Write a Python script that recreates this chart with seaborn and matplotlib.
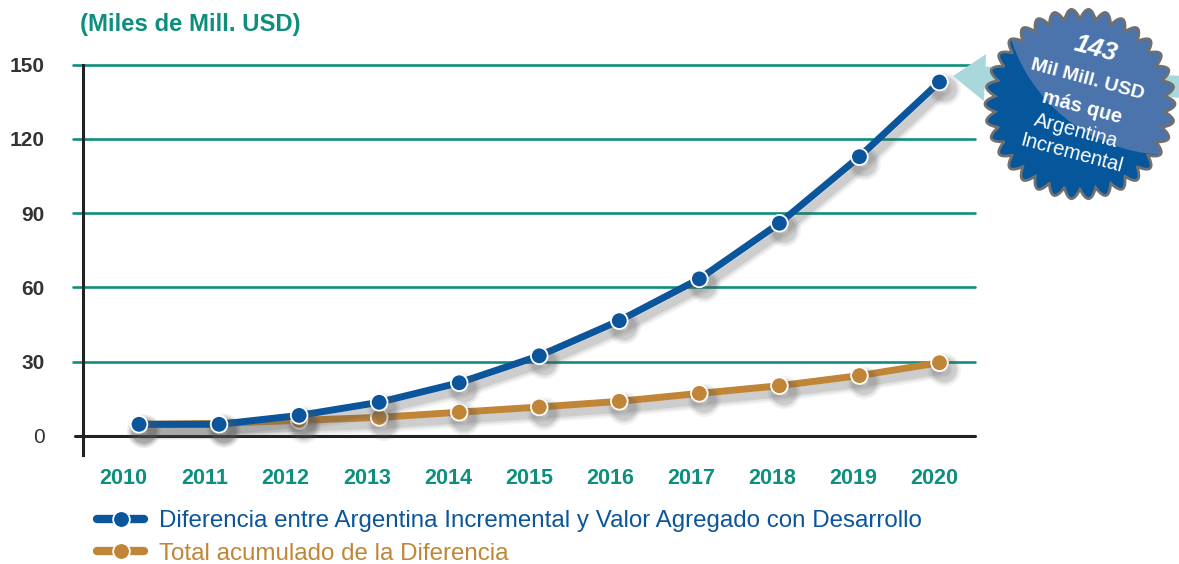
import numpy as np
import pandas as pd
import matplotlib
matplotlib.use("Agg")
import matplotlib.pyplot as plt
import matplotlib.patheffects as pe
from matplotlib.lines import Line2D
from matplotlib.patches import Polygon, Circle, FancyArrow
import seaborn as sns

# ---- data (miles de millones de USD) ----
years = [2010, 2011, 2012, 2013, 2014, 2015, 2016, 2017, 2018, 2019, 2020]
diferencia = [4.6, 4.6, 8.2, 13.5, 21.4, 32.3, 46.5, 63.4, 85.9, 112.8, 143.0]
acumulado = [4.6, 5.0, 6.2, 7.4, 9.5, 11.6, 13.9, 17.1, 20.2, 24.3, 29.5]
y_ticks = [0, 30, 60, 90, 120, 150]
serie_dif = "Diferencia entre Argentina Incremental y Valor Agregado con Desarrollo"
serie_acum = "Total acumulado de la Diferencia"
titulo = "(Miles de Mill. USD)"
badge_value = 143

BLUE = "#0b559c"
ORANGE = "#c08537"
TEAL = "#0e8f7d"
DARK = "#222222"

sns.set_style("white")
plt.rcParams["font.family"] = ["Liberation Sans", "DejaVu Sans"]

df = pd.DataFrame({
    "year": years * 2,
    "value": acumulado + diferencia,
    "serie": [serie_acum] * len(years) + [serie_dif] * len(years),
})

W, H = 1179, 564
fig = plt.figure(figsize=(W / 100, H / 100), dpi=100)
ax = fig.add_axes([83 / W, 109 / H, 891.7 / W, 390.3 / H])

x0, x1 = 2009.30, 2020.44
ax.set_xlim(x0, x1)
ax.set_ylim(-7.8, 150)

# gridlines (slightly protruding left of the axis)
ext = 10 / 891.7
for v in y_ticks[1:]:
    ax.axhline(v, xmin=-ext, xmax=1, color=TEAL, lw=1.9, clip_on=False, zorder=1)
ax.axhline(0, xmin=-8 / 891.7, xmax=1, color=DARK, lw=2.2, clip_on=False, zorder=3)

shadow = [
    pe.SimpleLineShadow(offset=(3.5, -5), shadow_color="#555555", alpha=0.07, linewidth=12),
    pe.SimpleLineShadow(offset=(3.5, -5), shadow_color="#555555", alpha=0.10, linewidth=9),
    pe.SimpleLineShadow(offset=(3.5, -5), shadow_color="#555555", alpha=0.15, linewidth=6),
    pe.Normal(),
]

sns.lineplot(
    data=df, x="year", y="value", hue="serie",
    hue_order=[serie_acum, serie_dif],
    palette={serie_dif: BLUE, serie_acum: ORANGE},
    marker="o", markersize=12, markeredgecolor="white", markeredgewidth=1.3,
    linewidth=5, legend=False, ax=ax, zorder=5,
)
for ln in ax.lines:
    if len(ln.get_xdata()) == len(years):
        ln.set_path_effects(shadow)
        ln.set_solid_joinstyle("round")
        ln.set_solid_capstyle("round")

# axes styling
for s in ["top", "right", "bottom"]:
    ax.spines[s].set_visible(False)
ax.spines["left"].set_color(DARK)
ax.spines["left"].set_linewidth(2.2)
ax.spines["left"].set_zorder(4)

ax.set_yticks(y_ticks)
ax.set_yticklabels([str(v) for v in y_ticks])
ax.tick_params(axis="y", length=0, pad=27.4, labelsize=15, labelcolor="#333333")
for lab, v in zip(ax.get_yticklabels(), y_ticks):
    lab.set_fontweight("normal" if v == 0 else "bold")

bounds = np.linspace(x0, x1, 12)
centers = (bounds[:-1] + bounds[1:]) / 2
ax.set_xticks(bounds[1:-1])
ax.set_xticklabels([])
ax.set_xticks(centers, minor=True)
ax.set_xticklabels([str(y) for y in years], minor=True)
ax.tick_params(axis="x", which="major", direction="in", length=13.9, width=2.2, color=DARK)
ax.tick_params(axis="x", which="minor", length=0, pad=9, labelsize=15.5, labelcolor=TEAL)
for lab in ax.get_xticklabels(minor=True):
    lab.set_fontweight("bold")
ax.set_xlabel("")
ax.set_ylabel("")

fig.text(80 / W, 1 - 24 / H, titulo, ha="left", va="center",
         fontsize=17.2, fontweight="bold", color=TEAL)

# legend
handles = [
    Line2D([], [], color=BLUE, lw=6, marker="o", markersize=12, markeredgecolor="white",
           markeredgewidth=1.3, solid_capstyle="round"),
    Line2D([], [], color=ORANGE, lw=6, marker="o", markersize=12, markeredgecolor="white",
           markeredgewidth=1.3, solid_capstyle="round"),
]
leg = fig.legend(handles, [serie_dif, serie_acum], loc="upper left",
                 bbox_to_anchor=(97 / W, 1 - 510 / H), frameon=False, borderpad=0,
                 borderaxespad=0, handlelength=1.95, handletextpad=0.6,
                 labelspacing=0.45, fontsize=17.4, numpoints=1)
for t, c in zip(leg.get_texts(), [BLUE, ORANGE]):
    t.set_color(c)

# ---- starburst callout (pixel coordinates overlay) ----
oax = fig.add_axes([0, 0, 1, 1], zorder=10)
oax.set_xlim(0, W)
oax.set_ylim(H, 0)
oax.axis("off")

arrow = FancyArrow(1185, 87, -232, -11, width=22, head_width=47, head_length=32,
                   length_includes_head=True, color="#a8d8dc", lw=0, zorder=1)
oax.add_patch(arrow)

cx, cy = 1080, 104
theta = np.linspace(0, 2 * np.pi, 2000)
r = 85 + 10 * np.abs(np.cos(17 * theta))
star_xy = np.column_stack([cx + r * np.cos(theta), cy + r * np.sin(theta)])
star = Polygon(star_xy, closed=True, facecolor="#05569b", edgecolor="none", zorder=2)
oax.add_patch(star)
glow = Circle((1170, -12), 167, facecolor="#4a74ab", edgecolor="none", zorder=3)
oax.add_patch(glow)
glow.set_clip_path(star)
outline = Polygon(star_xy, closed=True, facecolor="none", edgecolor="#707070", lw=2, zorder=4)
oax.add_patch(outline)

rot = -15
oax.text(1096, 49, str(badge_value), color="white", fontsize=19, fontweight="bold",
         fontstyle="italic", rotation=rot, ha="center", va="center", rotation_mode="anchor", zorder=5)
oax.text(1087, 80, "Mil Mill. USD", color="white", fontsize=14, fontweight="bold",
         rotation=rot, ha="center", va="center", rotation_mode="anchor", zorder=5)
oax.text(1082, 107, "más que", color="white", fontsize=14.5, fontweight="bold",
         rotation=rot, ha="center", va="center", rotation_mode="anchor", zorder=5)
oax.text(1076, 131, "Argentina", color="white", fontsize=14.5,
         rotation=rot, ha="center", va="center", rotation_mode="anchor", zorder=5)
oax.text(1071, 153, "Incremental", color="white", fontsize=14.5,
         rotation=rot, ha="center", va="center", rotation_mode="anchor", zorder=5)

fig.savefig("out.png", dpi=100)
